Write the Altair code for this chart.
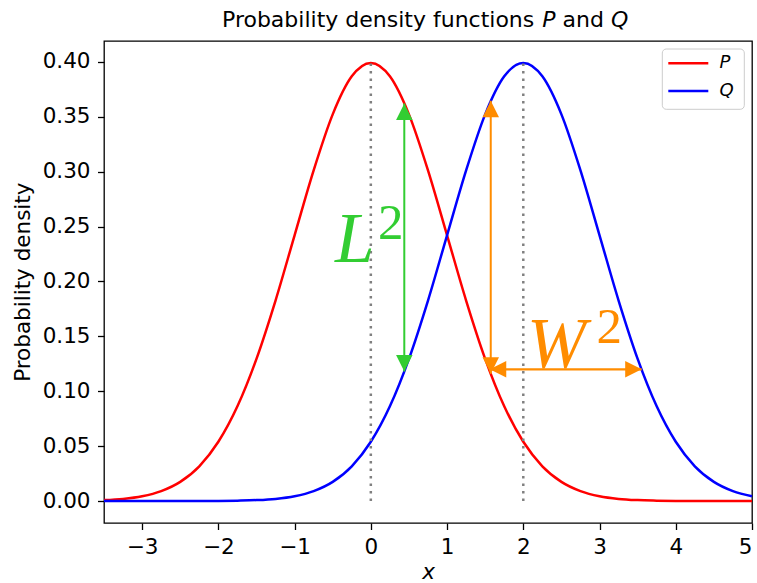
import altair as alt
import pandas as pd

# ---------------- data ----------------
x_grid = [-3.5, -3.25, -3.0, -2.75, -2.5, -2.25, -2.0, -1.75, -1.5, -1.25,
          -1.0, -0.75, -0.5, -0.25, 0.0, 0.25, 0.5, 0.75, 1.0, 1.25,
          1.5, 1.75, 2.0, 2.25, 2.5, 2.75, 3.0, 3.25, 3.5, 3.75,
          4.0, 4.25, 4.5, 4.75, 5.0]
p_density = [0.0009, 0.0020, 0.0044, 0.0091, 0.0175, 0.0317, 0.0540, 0.0863, 0.1295, 0.1826,
             0.2420, 0.3011, 0.3521, 0.3867, 0.3989, 0.3867, 0.3521, 0.3011, 0.2420, 0.1826,
             0.1295, 0.0863, 0.0540, 0.0317, 0.0175, 0.0091, 0.0044, 0.0020, 0.0009, 0.0004,
             0.0001, 0.0000, 0.0000, 0.0000, 0.0000]
q_density = [0.0000, 0.0000, 0.0000, 0.0000, 0.0000, 0.0000, 0.0001, 0.0004, 0.0009, 0.0020,
             0.0044, 0.0091, 0.0175, 0.0317, 0.0540, 0.0863, 0.1295, 0.1826, 0.2420, 0.3011,
             0.3521, 0.3867, 0.3989, 0.3867, 0.3521, 0.3011, 0.2420, 0.1826, 0.1295, 0.0863,
             0.0540, 0.0317, 0.0175, 0.0091, 0.0044]
series_names = ["P", "Q"]
series_colors = ["#ff0000", "#0000ff"]

x_ticks = [-3, -2, -1, 0, 1, 2, 3, 4, 5]
y_ticks = [0.0, 0.05, 0.10, 0.15, 0.20, 0.25, 0.30, 0.35, 0.40]
x_domain = [-3.5, 5.0]
y_domain = [-0.01995, 0.41889]

# dotted lines at the two means, up to the peak
mean_x = [0.0, 2.0]
peak_y = [0.3989, 0.3989]

# annotation arrows (data coordinates)
vert_arrow_x = [0.439, 1.573]
vert_arrow_lo = [0.118, 0.116]
vert_arrow_hi = [0.362, 0.3645]
vert_arrow_col = ["#32cd32", "#ff8c00"]
horiz_arrow_y = [0.120]
horiz_arrow_lo = [1.56]
horiz_arrow_hi = [3.553]

# annotation labels (data coordinates)
label_base = ["L", "W"]
label_base_x = [-0.47, 2.05]
label_base_y = [0.218, 0.1218]
label_sup_x = [0.094, 2.96]
label_sup_y = [0.2386, 0.1439]
label_col = ["#32cd32", "#ff8c00"]

# ---------------- frames ----------------
curves = pd.DataFrame({
    "x": x_grid * 2,
    "y": p_density + q_density,
    "series": [series_names[0]] * len(x_grid) + [series_names[1]] * len(x_grid),
})
means = pd.DataFrame({"x": mean_x, "y0": [0.0, 0.0], "y1": peak_y})
varrows = pd.DataFrame({"x": vert_arrow_x, "y0": vert_arrow_lo, "y1": vert_arrow_hi, "c": vert_arrow_col})
harrows = pd.DataFrame({"y": horiz_arrow_y, "x0": horiz_arrow_lo, "x1": horiz_arrow_hi})

head_rows = []
for xv, lo, hi, c in zip(vert_arrow_x, vert_arrow_lo, vert_arrow_hi, vert_arrow_col):
    head_rows.append({"x": xv, "y": hi, "d": "up", "c": c})
    head_rows.append({"x": xv, "y": lo, "d": "down", "c": c})
for yv, lo, hi in zip(horiz_arrow_y, horiz_arrow_lo, horiz_arrow_hi):
    head_rows.append({"x": lo, "y": yv, "d": "left", "c": "#ff8c00"})
    head_rows.append({"x": hi, "y": yv, "d": "right", "c": "#ff8c00"})
heads = pd.DataFrame(head_rows)

labels_base = pd.DataFrame({"x": label_base_x, "y": label_base_y, "t": label_base, "c": label_col})
labels_sup = pd.DataFrame({"x": label_sup_x, "y": label_sup_y, "t": ["2", "2"], "c": label_col})

# ---------------- scales / axes ----------------
FONT = "DejaVu Sans"
xscale = alt.Scale(domain=x_domain, nice=False, zero=False)
yscale = alt.Scale(domain=y_domain, nice=False, zero=False)
xaxis = alt.Axis(values=x_ticks, format="d", title="x", titleFontStyle="italic",
                 titleY=55.5, titleBaseline="alphabetic",
                 labelBaseline="alphabetic", labelPadding=24)
yaxis = alt.Axis(values=y_ticks, format=".2f", title="Probability density",
                 titleAngle=270, titleX=-74.7, titleY=240.7, titleAlign="center",
                 titleBaseline="alphabetic", labelPadding=7.5)


def X(field):
    return alt.X(field, type="quantitative", scale=xscale, axis=xaxis)


def Y(field):
    return alt.Y(field, type="quantitative", scale=yscale, axis=yaxis)


color_scale = alt.Scale(domain=series_names, range=series_colors)

curve_layer = alt.Chart(curves).mark_line(strokeWidth=2.5, interpolate="monotone").encode(
    x=X("x"), y=Y("y"),
    color=alt.Color("series:N", scale=color_scale, legend=None),
)

mean_layer = alt.Chart(means).mark_rule(color="#808080", strokeWidth=2.5, strokeDash=[2.5, 5]).encode(
    x=X("x"), y=Y("y0"), y2="y1"
)

varrow_layer = alt.Chart(varrows).mark_rule(strokeWidth=2).encode(
    x=X("x"), y=Y("y0"), y2="y1", color=alt.Color("c:N", scale=None)
)
harrow_layer = alt.Chart(harrows).mark_rule(strokeWidth=2.2, color="#ff8c00").encode(
    x=X("x0"), x2="x1", y=Y("y")
)

head_paths = {
    "up": "M0,0L-0.5,1L0.5,1Z",
    "down": "M0,0L-0.5,-1L0.5,-1Z",
    "left": "M0,0L1,-0.5L1,0.5Z",
    "right": "M0,0L-1,-0.5L-1,0.5Z",
}
head_layer = alt.Chart(heads).mark_point(filled=True, opacity=1, size=1089, strokeWidth=0).encode(
    x=X("x"), y=Y("y"),
    color=alt.Color("c:N", scale=None),
    shape=alt.Shape("d:N", scale=alt.Scale(domain=list(head_paths.keys()),
                                           range=list(head_paths.values())), legend=None),
)

base_text = alt.Chart(labels_base).mark_text(
    font="Liberation Serif", fontStyle="italic", fontSize=71, align="left", baseline="alphabetic"
).encode(x=X("x"), y=Y("y"), text="t:N", color=alt.Color("c:N", scale=None))
sup_text = alt.Chart(labels_sup).mark_text(
    font="Liberation Serif", fontSize=51, align="left", baseline="alphabetic"
).encode(x=X("x"), y=Y("y"), text="t:N", color=alt.Color("c:N", scale=None))

# ---------------- title with italic P and Q (pixel layout) ----------------
one = pd.DataFrame({"k": [0]})


def title_piece(txt, xpix, style):
    return alt.Chart(one).mark_text(
        text=txt, font=FONT, fontSize=22, fontStyle=style, align="left",
        baseline="alphabetic", color="black"
    ).encode(x=alt.value(xpix), y=alt.value(-13.7))


title_layers = [
    title_piece("Probability density functions", 118, "normal"),
    title_piece(series_names[0], 438.2, "italic"),
    title_piece("and", 458.5, "normal"),
    title_piece(series_names[1], 506.9, "italic"),
]

# ---------------- legend box (pixel layout) ----------------
legend_box = alt.Chart(one).mark_rect(
    fill="white", stroke="#cccccc", strokeWidth=1, cornerRadius=4
).encode(x=alt.value(558.3), x2=alt.value(640.3), y=alt.value(8), y2=alt.value(68.3))

legend_layers = [legend_box]
for i, (name, col) in enumerate(zip(series_names, series_colors)):
    ly = 22.3 + i * 27.7
    legend_layers.append(
        alt.Chart(one).mark_rule(color=col, strokeWidth=2.5).encode(
            x=alt.value(564.3), x2=alt.value(604.3), y=alt.value(ly)
        )
    )
    legend_layers.append(
        alt.Chart(one).mark_text(
            text=name, font=FONT, fontSize=18, fontStyle="italic", align="left",
            baseline="middle", color="black"
        ).encode(x=alt.value(615.5), y=alt.value(ly))
    )

chart = alt.layer(
    curve_layer, mean_layer, varrow_layer, harrow_layer, head_layer,
    base_text, sup_text, *title_layers, *legend_layers
).properties(
    width=648, height=482,
    padding={"left": 104, "top": 41, "right": 5, "bottom": 60},
    autosize=alt.AutoSizeParams(type="none"),
    background="white",
).configure_view(
    stroke="black", strokeWidth=1.3
).configure_axis(
    grid=False, domain=False,
    ticks=True, tickColor="black", tickWidth=1.3, tickSize=6.5,
    labelFont=FONT, labelFontSize=21.5, labelColor="black",
    titleFont=FONT, titleFontSize=21.5, titleColor="black", titleFontWeight="normal",
)

chart.save("out.html", embed_options={"renderer": "svg", "actions": False})
